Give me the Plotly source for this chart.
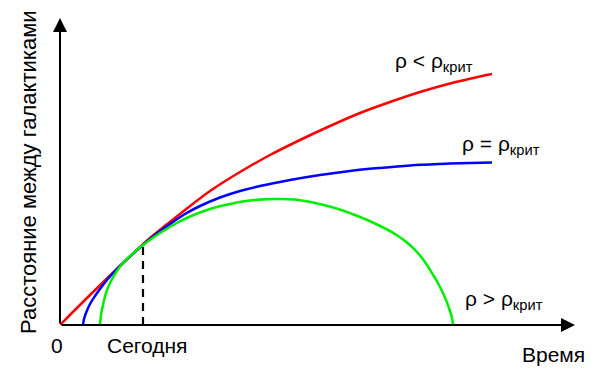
import plotly.graph_objects as go

# Values (arbitrary units: time, distance between galaxies)
red_t = [0, 30, 60, 90, 120, 150, 180, 210, 240, 270, 300, 330, 360, 390, 420, 432]
red_d = [0, 30, 59, 87, 111, 134, 153, 170, 185, 199, 212, 223, 233, 241.5, 248.5, 251]

blue_t = [23, 24, 26, 30, 35, 40, 47, 55, 65, 75, 83, 95, 110, 125, 140, 160, 180, 200, 230, 260, 290, 320, 350, 380, 410, 432]
blue_d = [0, 6, 12, 21, 29, 36, 45, 54, 64, 73, 80, 90, 101, 111, 119, 127.5, 134, 139, 145, 150, 154, 157, 159.5, 161, 162, 162.5]

green_t = [40, 41, 43, 46, 50, 55, 62, 70, 83, 100, 115, 130, 150, 170, 190, 213, 235, 255, 275, 295, 315, 335, 350, 362, 372, 380, 386, 390, 392, 393]
green_d = [0, 10, 20, 32, 42, 51, 61, 69, 80, 92, 101, 108.5, 116, 121, 124.5, 126, 125.5, 122, 117, 110, 101.5, 91, 80, 67, 52, 38, 25, 14, 7, 0]

today_t = 83
today_d = 80

x_max = 515
y_max = 307

fig = go.Figure()

fig.add_trace(go.Scatter(x=red_t, y=red_d, mode="lines", line=dict(color="#ff0000", width=2.5, shape="spline"), hoverinfo="skip"))
fig.add_trace(go.Scatter(x=blue_t, y=blue_d, mode="lines", line=dict(color="#0000ff", width=2.5, shape="spline"), hoverinfo="skip"))
fig.add_trace(go.Scatter(x=green_t, y=green_d, mode="lines", line=dict(color="#00ee00", width=2.5, shape="spline"), hoverinfo="skip"))
fig.add_trace(go.Scatter(x=[today_t, today_t], y=[0, today_d], mode="lines", line=dict(color="black", width=2.2, dash="8px,6px"), hoverinfo="skip"))


def px(t):
    return t / x_max


def py(d):
    return d / y_max


font = dict(family="Arial, Liberation Sans, sans-serif", size=21, color="black")


def label(x, y, text, size=21, angle=0, xanchor="center"):
    return dict(x=px(x), y=py(y), xref="paper", yref="paper", text=text, textangle=angle,
                xanchor=xanchor, yanchor="middle", showarrow=False, font=dict(font, size=size))


annotations = [
    # axes arrows
    dict(x=x_max, y=0, ax=0, ay=0, xref="x", yref="y", axref="x", ayref="y", showarrow=True,
         arrowhead=2, arrowsize=1.4, arrowwidth=2, arrowcolor="black", text=""),
    dict(x=0, y=y_max, ax=0, ay=0, xref="x", yref="y", axref="x", ayref="y", showarrow=True,
         arrowhead=2, arrowsize=1.4, arrowwidth=2, arrowcolor="black", text=""),
    label(-32, 153, "Расстояние между галактиками", size=22, angle=-90),
    label(-3, -20, "0"),
    label(today_t + 4, -20, "Сегодня"),
    label(493, -29, "Время"),
    label(333, 263, "ρ < ρ<sub>крит</sub>", xanchor="left"),
    label(400, 180, "ρ = ρ<sub>крит</sub>", xanchor="left"),
    label(403, 25, "ρ > ρ<sub>крит</sub>", xanchor="left"),
]

fig.update_layout(
    width=591, height=371,
    margin=dict(l=52, r=24, t=10, b=54),
    plot_bgcolor="white", paper_bgcolor="white",
    showlegend=False,
    xaxis=dict(range=[0, x_max], visible=False, fixedrange=True),
    yaxis=dict(range=[0, y_max], visible=False, fixedrange=True),
    annotations=annotations,
)

fig.write_html("out.html", config={"displayModeBar": False})
